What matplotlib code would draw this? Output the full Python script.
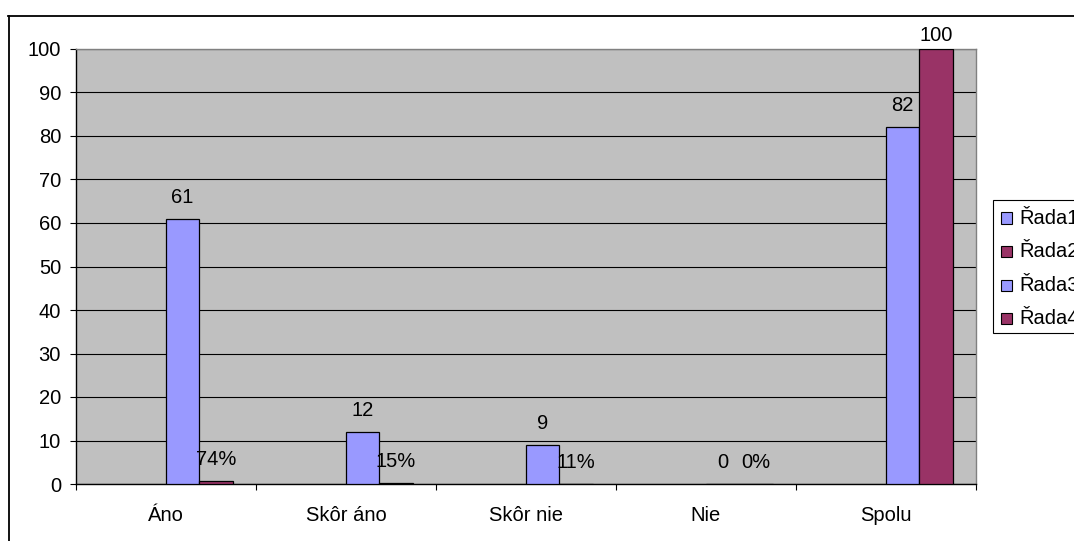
import matplotlib
matplotlib.use("Agg")
import matplotlib.pyplot as plt
import numpy as np
from matplotlib.lines import Line2D
from matplotlib.patches import Rectangle

plt.rcParams['font.family'] = ['Liberation Sans', 'DejaVu Sans']
plt.rcParams['font.size'] = 14.5

# údaje grafu
kategorie = ['Áno', 'Skôr áno', 'Skôr nie', 'Nie', 'Spolu']
nazvy_rad = ['Řada1', 'Řada2', 'Řada3', 'Řada4']
rada1 = [np.nan, np.nan, np.nan, np.nan, np.nan]
rada2 = [np.nan, np.nan, np.nan, np.nan, np.nan]
rada3 = [61, 12, 9, 0, 82]
rada4 = [0.74, 0.15, 0.11, 0, 100]
farby = ['#9999FF', '#993366', '#9999FF', '#993366']
percenta = [False, False, False, True]  # Řada4 má podiely zobrazené v %

W, H = 1074, 541
fig = plt.figure(figsize=(W / 100, H / 100), dpi=100)

def fx(x):
    return x / W

def fy(y):
    return 1 - y / H

ax = fig.add_axes([fx(76), fy(484), fx(976) - fx(76), fy(49) - fy(484)])
ax.set_facecolor('#C0C0C0')

x = np.arange(len(kategorie))
sirka = 1 / 5.4

rady = [rada1, rada2, rada3, rada4]
for i, (hodnoty, farba) in enumerate(zip(rady, farby)):
    pozicie = x + (i - 1.5) * sirka
    hodnoty = np.array(hodnoty, dtype=float)
    ax.bar(pozicie, hodnoty, width=sirka, color=farba, edgecolor='black',
           linewidth=0.9, zorder=3)
    for p, v in zip(pozicie, hodnoty):
        if np.isnan(v):
            continue
        if percenta[i] and v <= 1:
            text = f'{v:.0%}'
        else:
            text = f'{v:g}'
        # pri najvyššom stĺpci sa popis posunie nižšie, aby sa zmestil do rámu
        odsadenie = 6 if v >= 95 else 11.5
        ax.annotate(text, (p, v), xytext=(0, odsadenie), textcoords='offset points',
                    ha='center', va='baseline', zorder=4, annotation_clip=False)

ax.set_xlim(-0.5, len(kategorie) - 0.5)
ax.set_ylim(0, 100)
ax.set_yticks(np.arange(0, 101, 10))
ax.yaxis.grid(True, color='black', linewidth=0.8, zorder=1)
ax.set_axisbelow(True)

# hranice kategórií ako hlavné značky, názvy na stredoch
ax.set_xticks(np.arange(-0.5, len(kategorie), 1.0))
ax.set_xticklabels([])
ax.set_xticks(x, minor=True)
ax.set_xticklabels(kategorie, minor=True)
ax.tick_params(axis='x', which='major', direction='out', length=4.3, width=0.8, color='black')
ax.tick_params(axis='x', which='minor', length=0, pad=15.5)
ax.tick_params(axis='y', direction='out', length=4.3, width=0.8, pad=6.5)

for s in ['left', 'bottom']:
    ax.spines[s].set_color('black')
    ax.spines[s].set_linewidth(1.0)
for s in ['top', 'right']:
    ax.spines[s].set_color('#808080')
    ax.spines[s].set_linewidth(1.0)

# vonkajší rám grafu
fig.add_artist(Line2D([fx(8.5), fx(8.5)], [fy(16), 0], color='black', linewidth=1.3))
fig.add_artist(Line2D([fx(8), 1], [fy(16), fy(16)], color='black', linewidth=1.3))

# legenda
fig.add_artist(Rectangle((fx(993), fy(333)), fx(200), fy(200) - fy(333),
                         transform=fig.transFigure, facecolor='white',
                         edgecolor='black', linewidth=0.8))
for i, (nazov, farba) in enumerate(zip(nazvy_rad, farby)):
    yc = 218 + i * 33.6
    fig.add_artist(Rectangle((fx(1001), fy(yc + 5.5)), fx(11), fy(yc - 5.5) - fy(yc + 5.5),
                             transform=fig.transFigure, facecolor=farba,
                             edgecolor='black', linewidth=0.8))
    fig.text(fx(1019), fy(yc), nazov, ha='left', va='center')

fig.savefig('out.png', dpi=100)
